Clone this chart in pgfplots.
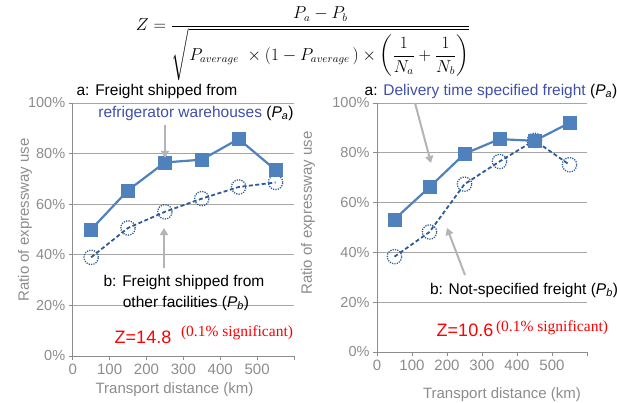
\documentclass[border=0pt]{standalone}
\usepackage{amsmath}
\usepackage{fontspec}
\setmainfont{Liberation Sans}
\newfontfamily\serifz{Liberation Serif}
\usepackage{pgfplots}
\pgfplotsset{compat=1.18}
\usetikzlibrary{arrows.meta}
\definecolor{sqblue}{HTML}{4F81BD}
\definecolor{cirblue}{HTML}{2E5A96}
\definecolor{txtblue}{HTML}{3F4FA8}
\definecolor{axgray}{HTML}{8C8C8C}
\definecolor{gridgray}{HTML}{A6A6A6}
\definecolor{arrgray}{HTML}{B4B4B4}
\pgfplotsset{
  myaxis/.style={
    scale only axis,
    axis lines*=left,
    axis line style={axgray, line width=0.9pt, -},
    xmin=0, xmax=600, ymin=0, ymax=100,
    xtick={0,100,...,600},
    xticklabels={0,100,200,300,400,500,{}},
    ytick={0,20,...,100},
    yticklabels={0\%,20\%,40\%,60\%,80\%,100\%},
    ymajorgrids,
    grid style={gridgray, line width=0.9pt},
    tick align=outside,
    major tick length=4pt,
    tick style={axgray, line width=0.9pt},
    xticklabel style={font=\fontsize{15}{17}\selectfont, text=axgray},
    yticklabel style={font=\fontsize{14.5}{17}\selectfont, text=axgray},
    label style={font=\fontsize{15}{17}\selectfont, text=axgray},
    xlabel={Transport distance (km)},
    ylabel={Ratio of expressway use},
    clip=false,
  },
  sqline/.style={sqblue, line width=2.2pt, mark=square*, mark size=6.5pt, mark options={fill=sqblue, draw=sqblue, line width=0.5pt}},
  cirline/.style={cirblue, line width=1.8pt, dash pattern=on 4pt off 2.5pt, mark=o, mark size=7.2pt, mark options={solid, dash pattern=on 1.2pt off 1.2pt, line width=1.3pt, draw=cirblue}},
}
\begin{document}
\begin{tikzpicture}
\useasboundingbox (0pt,0pt) rectangle (617pt,402pt);
% formula
\node[anchor=center] at (303pt,358pt) {\fontsize{16}{19}\selectfont
$\displaystyle Z=\frac{P_a-P_b}{\sqrt{P_{average}\;\times\left(1-P_{average}\,\right)\times\left(\dfrac{1}{N_a}+\dfrac{1}{N_b}\right)}}$};
% left axis
\begin{axis}[myaxis, at={(72.7pt,46pt)}, anchor=south west, width=221.3pt, height=253pt,
  xlabel style={at={(axis description cs:0.46,-0.134)}, anchor=center},
  ylabel style={at={(axis description cs:-0.216,0.538)}, anchor=center}]
\addplot[cirline] coordinates {(50,39) (150,50.6) (250,57) (350,62.2) (450,66.8) (550,68.6)};
\addplot[sqline] coordinates {(50,50) (150,65.5) (250,76.5) (350,77.6) (450,85.8) (550,73.5)};
\end{axis}
% right axis
\begin{axis}[myaxis, at={(377pt,50pt)}, anchor=south west, width=210pt, height=249pt,
  xlabel style={at={(axis description cs:0.595,-0.173)}, anchor=center},
  ylabel style={at={(axis description cs:-0.329,0.558)}, anchor=center}]
\addplot[cirline] coordinates {(50,38.3) (150,48.2) (250,67.4) (350,76.5) (450,85) (550,75.2)};
\addplot[sqline] coordinates {(50,53.3) (150,66.2) (250,79.6) (350,85.5) (450,84.8) (550,92)};
\end{axis}
% annotations
\begin{scope}[font=\fontsize{15.5}{18}\selectfont]
\node at (157pt,311pt) {a: Freight shipped from};
\node at (196pt,289pt) {\textcolor{txtblue}{refrigerator warehouses} (\textit{P}\textsubscript{\textit{a}})};
\node at (184pt,120pt) {b: Freight shipped from};
\node at (186pt,99pt) {other facilities (\textit{P}\textsubscript{\textit{b}})};
\node at (491pt,311pt) {a: \textcolor{txtblue}{Delivery time specified freight} (\textit{P}\textsubscript{\textit{a}})};
\node at (524pt,112pt) {b: Not-specified freight (\textit{P}\textsubscript{\textit{b}})};
\end{scope}
\draw[arrgray, line width=2pt, -{Triangle[length=7pt,width=8pt]}] (165pt,277pt) -- (165pt,244pt);
\draw[arrgray, line width=2pt, -{Triangle[length=7pt,width=8pt]}] (164pt,134pt) -- (164pt,174pt);
\draw[arrgray, line width=2pt, -{Triangle[length=7pt,width=8pt]}] (415pt,299pt) -- (431pt,239pt);
\draw[arrgray, line width=2pt, -{Triangle[length=7pt,width=8pt]}] (465pt,127pt) -- (447pt,174pt);
\node[red, font=\fontsize{18}{20}\selectfont] at (143pt,65pt) {Z=14.8};
\node[red, font=\serifz\fontsize{15.5}{18}\selectfont] at (237pt,69pt) {(0.1\% significant)};
\node[red, font=\fontsize{18}{20}\selectfont] at (465pt,72pt) {Z=10.6};
\node[red, font=\serifz\fontsize{15.5}{18}\selectfont] at (552pt,74pt) {(0.1\% significant)};
\end{tikzpicture}
\end{document}
